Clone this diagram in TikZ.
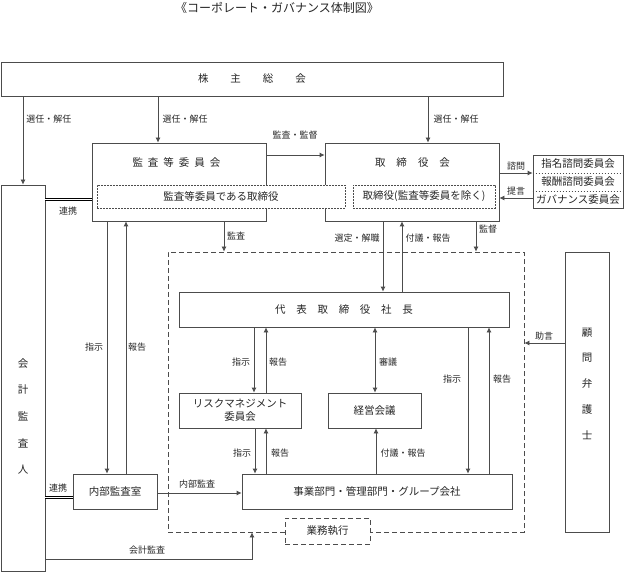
\documentclass[tikz,border=0pt]{standalone}
\usepackage{fontspec}
\setmainfont{Noto Sans CJK JP}
\usetikzlibrary{arrows.meta}

\makeatletter
\newcommand{\spacedchars}[2]{\def\sc@sep{}\@tfor\sc@c:=#2\do{\sc@sep\sc@c\def\sc@sep{\hspace{#1}}}}
\makeatother

\begin{document}
\begin{tikzpicture}[x=1pt,y=-1pt,>={Latex[length=5pt,width=5pt]},
  every node/.style={inner sep=0pt,text=black!85},
  box/.style={draw=black!70,line width=0.8pt,fill=white,font=\fontsize{10.5}{13}\selectfont},
  dotbox/.style={box,dash pattern=on 1.6pt off 1.4pt},
  dashbox/.style={draw=black!70,line width=0.8pt,dash pattern=on 5pt off 3pt},
  lbl/.style={font=\fontsize{9}{11}\selectfont},
  arr/.style={->,draw=black!70,line width=0.8pt},
  link/.style={draw=black,line width=1pt,double=white,double distance=1pt}]
  \useasboundingbox (0,0) rectangle (624,572);

  \node (title) at (277,8) {\fontsize{12}{14}\selectfont《コーポレート・ガバナンス体制図》};

  \node[box,minimum width=502pt,minimum height=34pt] (gm) at (252,79) {\spacedchars{22pt}{株主総会}};

  \node[box,minimum width=44pt,minimum height=386pt] (cpa) at (23,378) {};
  \node[align=center,font=\fontsize{10.5}{26.7}\selectfont] (cpatext) at (23,416.5) {会\\計\\監\\査\\人};

  \node[box,minimum width=174pt,minimum height=78pt] (aud) at (179,182) {};
  \node[font=\fontsize{10.5}{13}\selectfont] (audtitle) at (176.5,163) {\spacedchars{5pt}{監査等委員会}};
  \node[box,minimum width=174pt,minimum height=78pt] (board) at (412,182) {};
  \node[font=\fontsize{10.5}{13}\selectfont] (boardtitle) at (412.5,163) {\spacedchars{11pt}{取締役会}};
  \node[dotbox,minimum width=248pt,minimum height=23pt] (audd) at (221,196.5) {監査等委員である取締役};
  \node[dotbox,minimum width=142pt,minimum height=23pt] (boardd) at (424,196.5) {取締役(監査等委員を除く)};

  \node[box,minimum width=90pt,minimum height=53pt,align=center,font=\fontsize{10.5}{18}\selectfont] (com) at (578,181.5)
    {指名諮問委員会\\報酬諮問委員会\\ガバナンス委員会};
  \foreach \y in {173,191}
    \draw[draw=black!70,line width=0.6pt,dash pattern=on 1.6pt off 1.4pt] (com.west |- 0,\y) -- (com.east |- 0,\y);

  \node[dashbox,minimum width=356pt,minimum height=280pt] (exec) at (346,392) {};

  \node[box,minimum width=44pt,minimum height=280pt] (adv) at (587,392) {};
  \node[align=center,font=\fontsize{10.5}{25.75}\selectfont] (advtext) at (587,383.5) {顧\\問\\弁\\護\\士};

  \node[box,minimum width=330pt,minimum height=35pt] (ceo) at (344,309.5) {\spacedchars{10.7pt}{代表取締役社長}};
  \node[box,minimum width=122pt,minimum height=35pt,align=center] (rm) at (240,410.5) {リスクマネジメント\\委員会};
  \node[box,minimum width=93pt,minimum height=35pt] (mc) at (374.5,410.5) {経営会議};
  \node[box,minimum width=84pt,minimum height=35pt] (ia) at (115,491.5) {内部監査室};
  \node[box,minimum width=270pt,minimum height=35pt] (biz) at (377,491.5) {事業部門・管理部門・グループ会社};
  \node[box,dash pattern=on 5pt off 3pt,minimum width=85pt,minimum height=26pt] (ops) at (327.5,531) {業務執行};

  \foreach \x/\lx/\tgt in {23/49/cpa,158/185/aud,428/456/board}
  { \draw[arr] (\x,0 |- gm.south) -- (\x,0 |- \tgt.north);
    \node[lbl] (sel\x) at (\lx,119) {選任・解任}; }

  \draw[arr] (aud.east |- 0,155) -- (board.west |- 0,155);
  \node[lbl] (audsup) at (295,135) {監査・監督};

  \draw[link] (cpa.east |- 0,200) -- (aud.west |- 0,200);
  \node[lbl] (coop1) at (68,211) {連携};

  \draw[arr] (107,0 |- aud.south) -- (107,0 |- ia.north);
  \node[lbl] (inst1) at (94,347) {指示};
  \draw[arr] (126,0 |- ia.north) -- (126,0 |- aud.south);
  \node[lbl] (rep1) at (137,347) {報告};

  \draw[arr] (224,0 |- aud.south) -- (224,0 |- exec.north);
  \node[lbl] (audit) at (236,236) {監査};

  \draw[arr] (383,0 |- board.south) -- (383,0 |- ceo.north);
  \node[lbl] (appoint) at (357,238) {選定・解職};
  \draw[arr] (402,0 |- ceo.north) -- (402,0 |- board.south);
  \node[lbl] (submit1) at (428,238) {付議・報告};

  \draw[arr] (476,0 |- board.south) -- (476,0 |- exec.north);
  \node[lbl] (sup) at (488,229) {監督};

  \draw[arr] (board.east |- 0,173) -- (com.west |- 0,173);
  \node[lbl] (consult) at (516,166) {諮問};
  \draw[arr] (com.west |- 0,198) -- (board.east |- 0,198);
  \node[lbl] (propose) at (516,191) {提言};

  \draw[arr] (adv.west |- 0,343) -- (exec.east |- 0,343);
  \node[lbl] (advice) at (544,336) {助言};

  \draw[arr] (254,0 |- ceo.south) -- (254,0 |- rm.north);
  \node[lbl] (inst2) at (241,362) {指示};
  \draw[arr] (266,0 |- rm.north) -- (266,0 |- ceo.south);
  \node[lbl] (rep2) at (278,362) {報告};

  \draw[arr,<->] (375,0 |- ceo.south) -- (375,0 |- mc.north);
  \node[lbl] (deliberate) at (388,362) {審議};

  \draw[arr] (468,0 |- ceo.south) -- (468,0 |- biz.north);
  \node[lbl] (inst3) at (452,379) {指示};
  \draw[arr] (489,0 |- biz.north) -- (489,0 |- ceo.south);
  \node[lbl] (rep3) at (502,379) {報告};

  \draw[arr] (255,0 |- rm.south) -- (255,0 |- biz.north);
  \node[lbl] (inst4) at (242,453) {指示};
  \draw[arr] (266,0 |- biz.north) -- (266,0 |- rm.south);
  \node[lbl] (rep4) at (280,453) {報告};
  \draw[arr] (376,0 |- biz.north) -- (376,0 |- mc.south);
  \node[lbl] (submit2) at (403,453) {付議・報告};

  \draw[link] (cpa.east |- 0,497) -- (ia.west |- 0,497);
  \node[lbl] (coop2) at (58,488) {連携};
  \draw[arr] (ia.east |- 0,493) -- (biz.west |- 0,493);
  \node[lbl] (intaudit) at (197,484) {内部監査};
  \draw[arr] (cpa.east |- 0,559) -| (252,0 |- exec.south);
  \node[lbl] (acctaudit) at (147,550) {会計監査};
\end{tikzpicture}
\end{document}
